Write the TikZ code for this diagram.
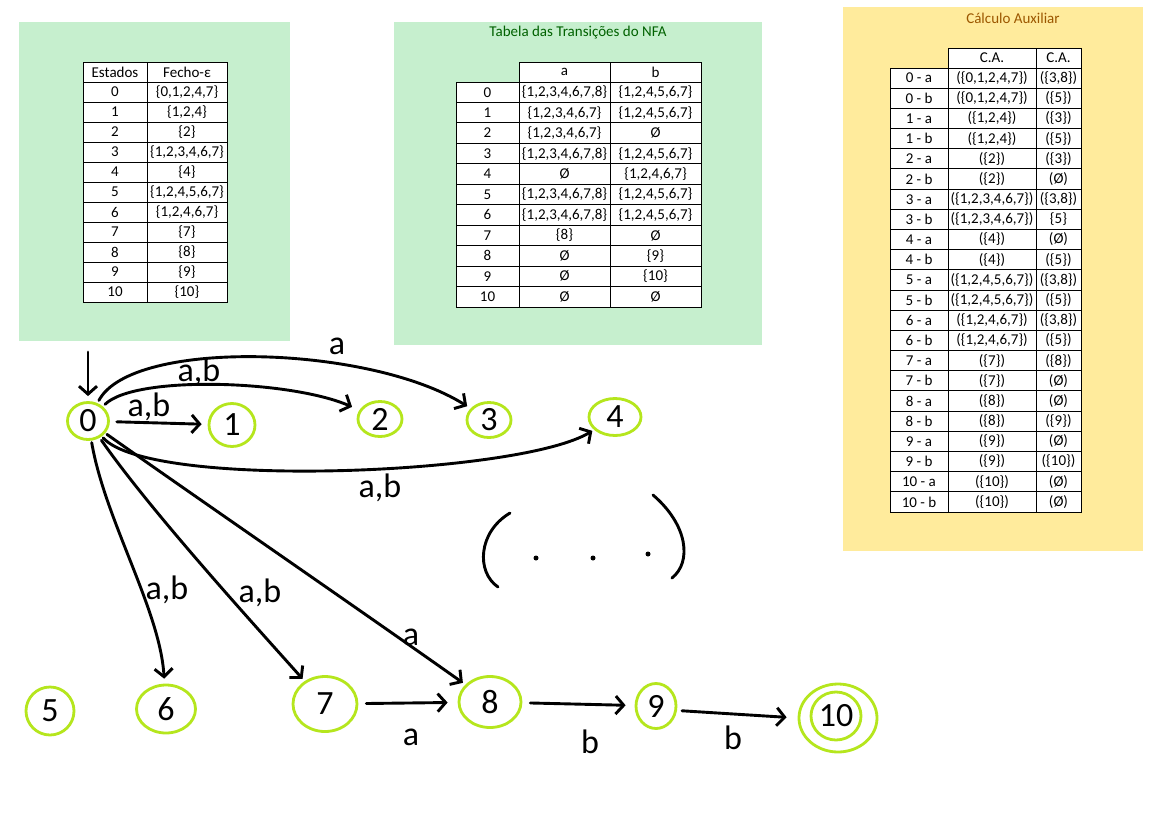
\documentclass[tikz,border=0pt]{standalone}
\usepackage{fontspec}
\setmainfont{Carlito}
\usetikzlibrary{arrows.meta,shapes.geometric}

\tikzset{
  cell/.style={text=drawColor, inner sep=0pt, outer sep=0pt, font=\fontsize{15}{17}\selectfont},
  boxtitle/.style={inner sep=0pt, outer sep=0pt, font=\fontsize{15}{17}\selectfont},
  gridline/.style={draw=drawColor, line width=1pt},
  state/.style={ellipse, draw=stateColor, line width=2.8pt, inner sep=0pt, text=drawColor, font=\fontsize{34}{34}\selectfont},
  hand/.style={text=drawColor, inner sep=0pt, outer sep=0pt, font=\fontsize{34}{34}\selectfont},
  edge/.style={draw=drawColor, line width=2.9pt, line cap=round, line join=round, -{Straight Barb[length=8pt,width=18pt]}},
}

\begin{document}
\begin{tikzpicture}[x=1pt,y=-1pt]
\definecolor{fillColor}{RGB}{255,255,255}
\path[use as bounding box,fill=fillColor] (0,0) rectangle (1152,820);
\begin{scope}
\definecolor{greenFill}{RGB}{198,239,206}
\definecolor{yellowFill}{RGB}{255,235,156}

\path[fill=greenFill] ( 19, 22) rectangle (290,341);

\path[fill=greenFill] (394, 22) rectangle (762,345);

\path[fill=yellowFill] (843,  7) rectangle (1143,551);

\node[boxtitle,text={rgb,255:red,0;green,97;blue,0}] (nfatitle) at (578, 33) {Tabela das Transições do NFA};

\node[boxtitle,text={rgb,255:red,156;green,87;blue,0}] (auxtitle) at (1013, 18) {Cálculo Auxiliar};
\end{scope}
\begin{scope}
\definecolor{drawColor}{RGB}{0,0,0}
\definecolor{cellFill}{RGB}{255,255,255}

\path[fill=cellFill,gridline] ( 83, 62) rectangle (227,302);
\path[gridline] (147, 62) -- (147,302);
\path[gridline] ( 83, 82) -- (227, 82);
\path[gridline] ( 83,102) -- (227,102);
\path[gridline] ( 83,122) -- (227,122);
\path[gridline] ( 83,142) -- (227,142);
\path[gridline] ( 83,162) -- (227,162);
\path[gridline] ( 83,182) -- (227,182);
\path[gridline] ( 83,202) -- (227,202);
\path[gridline] ( 83,222) -- (227,222);
\path[gridline] ( 83,242) -- (227,242);
\path[gridline] ( 83,262) -- (227,262);
\path[gridline] ( 83,282) -- (227,282);

\node[cell] (eh) at (115, 72) {Estados};
\node[cell] (fh) at (187, 72) {Fecho-ε};
\node[cell] (e0) at (115, 92) {0};
\node[cell] (f0) at (187, 92) {\{0,1,2,4,7\}};
\node[cell] (e1) at (115,112) {1};
\node[cell] (f1) at (187,112) {\{1,2,4\}};
\node[cell] (e2) at (115,132) {2};
\node[cell] (f2) at (187,132) {\{2\}};
\node[cell] (e3) at (115,152) {3};
\node[cell] (f3) at (187,152) {\{1,2,3,4,6,7\}};
\node[cell] (e4) at (115,172) {4};
\node[cell] (f4) at (187,172) {\{4\}};
\node[cell] (e5) at (115,192) {5};
\node[cell] (f5) at (187,192) {\{1,2,4,5,6,7\}};
\node[cell] (e6) at (115,212) {6};
\node[cell] (f6) at (187,212) {\{1,2,4,6,7\}};
\node[cell] (e7) at (115,232) {7};
\node[cell] (f7) at (187,232) {\{7\}};
\node[cell] (e8) at (115,252) {8};
\node[cell] (f8) at (187,252) {\{8\}};
\node[cell] (e9) at (115,272) {9};
\node[cell] (f9) at (187,272) {\{9\}};
\node[cell] (e10) at (115,292) {10};
\node[cell] (f10) at (187,292) {\{10\}};

\path[fill=cellFill,gridline] (519, 62) rectangle (701, 82);
\path[fill=cellFill,gridline] (456, 82) rectangle (701,307);
\path[gridline] (519, 62) -- (519,307);
\path[gridline] (610, 62) -- (610,307);
\path[gridline] (456,102.5) -- (701,102.5);
\path[gridline] (456,122.9) -- (701,122.9);
\path[gridline] (456,143.4) -- (701,143.4);
\path[gridline] (456,163.8) -- (701,163.8);
\path[gridline] (456,184.3) -- (701,184.3);
\path[gridline] (456,204.7) -- (701,204.7);
\path[gridline] (456,225.2) -- (701,225.2);
\path[gridline] (456,245.6) -- (701,245.6);
\path[gridline] (456,266.1) -- (701,266.1);
\path[gridline] (456,286.5) -- (701,286.5);

\node[cell] (ta) at (564.5, 72) {a};
\node[cell] (tb) at (655.5, 72) {b};
\node[cell] (n0) at (487.5, 92.2) {0};
\node[cell] (n0a) at (564.5, 92.2) {\{1,2,3,4,6,7,8\}};
\node[cell] (n0b) at (655.5, 92.2) {\{1,2,4,5,6,7\}};
\node[cell] (n1) at (487.5,112.7) {1};
\node[cell] (n1a) at (564.5,112.7) {\{1,2,3,4,6,7\}};
\node[cell] (n1b) at (655.5,112.7) {\{1,2,4,5,6,7\}};
\node[cell] (n2) at (487.5,133.1) {2};
\node[cell] (n2a) at (564.5,133.1) {\{1,2,3,4,6,7\}};
\node[cell] (n2b) at (655.5,133.1) {Ø};
\node[cell] (n3) at (487.5,153.6) {3};
\node[cell] (n3a) at (564.5,153.6) {\{1,2,3,4,6,7,8\}};
\node[cell] (n3b) at (655.5,153.6) {\{1,2,4,5,6,7\}};
\node[cell] (n4) at (487.5,174.0) {4};
\node[cell] (n4a) at (564.5,174.0) {Ø};
\node[cell] (n4b) at (655.5,174.0) {\{1,2,4,6,7\}};
\node[cell] (n5) at (487.5,194.5) {5};
\node[cell] (n5a) at (564.5,194.5) {\{1,2,3,4,6,7,8\}};
\node[cell] (n5b) at (655.5,194.5) {\{1,2,4,5,6,7\}};
\node[cell] (n6) at (487.5,214.9) {6};
\node[cell] (n6a) at (564.5,214.9) {\{1,2,3,4,6,7,8\}};
\node[cell] (n6b) at (655.5,214.9) {\{1,2,4,5,6,7\}};
\node[cell] (n7) at (487.5,235.4) {7};
\node[cell] (n7a) at (564.5,235.4) {\{8\}};
\node[cell] (n7b) at (655.5,235.4) {Ø};
\node[cell] (n8) at (487.5,255.8) {8};
\node[cell] (n8a) at (564.5,255.8) {Ø};
\node[cell] (n8b) at (655.5,255.8) {\{9\}};
\node[cell] (n9) at (487.5,276.3) {9};
\node[cell] (n9a) at (564.5,276.3) {Ø};
\node[cell] (n9b) at (655.5,276.3) {\{10\}};
\node[cell] (n10) at (487.5,296.7) {10};
\node[cell] (n10a) at (564.5,296.7) {Ø};
\node[cell] (n10b) at (655.5,296.7) {Ø};

\path[fill=cellFill,gridline] (948, 48) rectangle (1081, 68);
\path[fill=cellFill,gridline] (890, 68) rectangle (1081,512);
\path[gridline] (948, 48) -- (948,512);
\path[gridline] (1036, 48) -- (1036,512);
\path[gridline] (890, 88.2) -- (1081, 88.2);
\path[gridline] (890,108.4) -- (1081,108.4);
\path[gridline] (890,128.5) -- (1081,128.5);
\path[gridline] (890,148.7) -- (1081,148.7);
\path[gridline] (890,168.9) -- (1081,168.9);
\path[gridline] (890,189.1) -- (1081,189.1);
\path[gridline] (890,209.3) -- (1081,209.3);
\path[gridline] (890,229.5) -- (1081,229.5);
\path[gridline] (890,249.6) -- (1081,249.6);
\path[gridline] (890,269.8) -- (1081,269.8);
\path[gridline] (890,290.0) -- (1081,290.0);
\path[gridline] (890,310.2) -- (1081,310.2);
\path[gridline] (890,330.4) -- (1081,330.4);
\path[gridline] (890,350.5) -- (1081,350.5);
\path[gridline] (890,370.7) -- (1081,370.7);
\path[gridline] (890,390.9) -- (1081,390.9);
\path[gridline] (890,411.1) -- (1081,411.1);
\path[gridline] (890,431.3) -- (1081,431.3);
\path[gridline] (890,451.5) -- (1081,451.5);
\path[gridline] (890,471.6) -- (1081,471.6);
\path[gridline] (890,491.8) -- (1081,491.8);

\node[cell] (ca1) at (992, 58) {C.A.};
\node[cell] (ca2) at (1058.5, 58) {C.A.};
\node[cell] (q0a) at (919, 78.1) {0 - a};
\node[cell] (q0aL) at (992, 78.1) {(\{0,1,2,4,7\})};
\node[cell] (q0aR) at (1058.5, 78.1) {(\{3,8\})};
\node[cell] (q0b) at (919, 98.3) {0 - b};
\node[cell] (q0bL) at (992, 98.3) {(\{0,1,2,4,7\})};
\node[cell] (q0bR) at (1058.5, 98.3) {(\{5\})};
\node[cell] (q1a) at (919,118.5) {1 - a};
\node[cell] (q1aL) at (992,118.5) {(\{1,2,4\})};
\node[cell] (q1aR) at (1058.5,118.5) {(\{3\})};
\node[cell] (q1b) at (919,138.6) {1 - b};
\node[cell] (q1bL) at (992,138.6) {(\{1,2,4\})};
\node[cell] (q1bR) at (1058.5,138.6) {(\{5\})};
\node[cell] (q2a) at (919,158.8) {2 - a};
\node[cell] (q2aL) at (992,158.8) {(\{2\})};
\node[cell] (q2aR) at (1058.5,158.8) {(\{3\})};
\node[cell] (q2b) at (919,179.0) {2 - b};
\node[cell] (q2bL) at (992,179.0) {(\{2\})};
\node[cell] (q2bR) at (1058.5,179.0) {(Ø)};
\node[cell] (q3a) at (919,199.2) {3 - a};
\node[cell] (q3aL) at (992,199.2) {(\{1,2,3,4,6,7\})};
\node[cell] (q3aR) at (1058.5,199.2) {(\{3,8\})};
\node[cell] (q3b) at (919,219.4) {3 - b};
\node[cell] (q3bL) at (992,219.4) {(\{1,2,3,4,6,7\})};
\node[cell] (q3bR) at (1058.5,219.4) {\{5\}};
\node[cell] (q4a) at (919,239.5) {4 - a};
\node[cell] (q4aL) at (992,239.5) {(\{4\})};
\node[cell] (q4aR) at (1058.5,239.5) {(Ø)};
\node[cell] (q4b) at (919,259.7) {4 - b};
\node[cell] (q4bL) at (992,259.7) {(\{4\})};
\node[cell] (q4bR) at (1058.5,259.7) {(\{5\})};
\node[cell] (q5a) at (919,279.9) {5 - a};
\node[cell] (q5aL) at (992,279.9) {(\{1,2,4,5,6,7\})};
\node[cell] (q5aR) at (1058.5,279.9) {(\{3,8\})};
\node[cell] (q5b) at (919,300.1) {5 - b};
\node[cell] (q5bL) at (992,300.1) {(\{1,2,4,5,6,7\})};
\node[cell] (q5bR) at (1058.5,300.1) {(\{5\})};
\node[cell] (q6a) at (919,320.3) {6 - a};
\node[cell] (q6aL) at (992,320.3) {(\{1,2,4,6,7\})};
\node[cell] (q6aR) at (1058.5,320.3) {(\{3,8\})};
\node[cell] (q6b) at (919,340.4) {6 - b};
\node[cell] (q6bL) at (992,340.4) {(\{1,2,4,6,7\})};
\node[cell] (q6bR) at (1058.5,340.4) {(\{5\})};
\node[cell] (q7a) at (919,360.6) {7 - a};
\node[cell] (q7aL) at (992,360.6) {(\{7\})};
\node[cell] (q7aR) at (1058.5,360.6) {(\{8\})};
\node[cell] (q7b) at (919,380.8) {7 - b};
\node[cell] (q7bL) at (992,380.8) {(\{7\})};
\node[cell] (q7bR) at (1058.5,380.8) {(Ø)};
\node[cell] (q8a) at (919,401.0) {8 - a};
\node[cell] (q8aL) at (992,401.0) {(\{8\})};
\node[cell] (q8aR) at (1058.5,401.0) {(Ø)};
\node[cell] (q8b) at (919,421.2) {8 - b};
\node[cell] (q8bL) at (992,421.2) {(\{8\})};
\node[cell] (q8bR) at (1058.5,421.2) {(\{9\})};
\node[cell] (q9a) at (919,441.3) {9 - a};
\node[cell] (q9aL) at (992,441.3) {(\{9\})};
\node[cell] (q9aR) at (1058.5,441.3) {(Ø)};
\node[cell] (q9b) at (919,461.5) {9 - b};
\node[cell] (q9bL) at (992,461.5) {(\{9\})};
\node[cell] (q9bR) at (1058.5,461.5) {(\{10\})};
\node[cell] (q10a) at (919,481.7) {10 - a};
\node[cell] (q10aL) at (992,481.7) {(\{10\})};
\node[cell] (q10aR) at (1058.5,481.7) {(Ø)};
\node[cell] (q10b) at (919,501.9) {10 - b};
\node[cell] (q10bL) at (992,501.9) {(\{10\})};
\node[cell] (q10bR) at (1058.5,501.9) {(Ø)};
\end{scope}
\begin{scope}
\definecolor{drawColor}{RGB}{0,0,0}
\definecolor{stateColor}{RGB}{181,230,29}

\node[state,minimum width=41pt,minimum height=37pt] (s0) at ( 88,421) {0};
\node[state,minimum width=46pt,minimum height=43pt] (s1) at (232,425) {1};
\node[state,minimum width=44pt,minimum height=35pt] (s2) at (380,419) {2};
\node[state,minimum width=44pt,minimum height=35pt] (s3) at (489,420) {3};
\node[state,minimum width=52pt,minimum height=37pt] (s4) at (615,417) {4};
\node[state,minimum width=48pt,minimum height=48pt] (s5) at ( 50,711) {5};
\node[state,minimum width=59pt,minimum height=48pt] (s6) at (166,709) {6};
\node[state,minimum width=64pt,minimum height=55pt] (s7) at (325,704) {7};
\node[state,minimum width=62pt,minimum height=51pt] (s8) at (490,702) {8};
\node[state,minimum width=40pt,minimum height=45pt] (s9) at (656,706) {9};
\node[state,minimum width=78pt,minimum height=68pt] (s10) at (838,718) {};
\node[state,minimum width=50pt,minimum height=48pt] (s10in) at (836,716) {10};

\coordinate (init) at (88,352);

\draw[edge,shorten >=5pt] (init) -- (s0);

\draw[edge,shorten <=7pt,shorten >=6pt] (s0) -- (s1);

\draw[edge,shorten <=3pt,shorten >=8pt] (s0) .. controls (135,375) and (290,380) .. (s2);

\draw[edge,shorten <=3pt,shorten >=4pt] (s0) .. controls (132,338) and (370,345) .. (s3);

\draw[edge,shorten <=2pt,shorten >=2pt] (s0) .. controls (150,490) and (520,475) .. (s4);

\draw[edge,shorten <=2pt,shorten >=5pt] (s0) .. controls (105,520) and (160,610) .. (s6);

\draw[edge,shorten <=3pt,shorten >=3pt] (s0) .. controls (150,510) and (250,620) .. (s7);

\draw[edge,shorten <=2pt,shorten >=3pt] (s0) .. controls (200,500) and (360,610) .. (s8);

\draw[edge,shorten <=8pt,shorten >=10pt] (s7) -- (s8);

\draw[edge,shorten <=8pt,shorten >=9pt] (s8) -- (s9);

\draw[edge,shorten <=5pt,shorten >=11pt] (s9.-12) -- (s10.west);

\node[hand] (l01) at (149,407) {a,b};
\node[hand] (l02) at (199,372) {a,b};
\node[hand] (l03) at (337,346) {a};
\node[hand] (l04) at (380,488) {a,b};
\node[hand] (l06) at (167,590) {a,b};
\node[hand] (l07) at (260,593) {a,b};
\node[hand] (l08) at (411,637) {a};
\node[hand] (l78) at (411,737) {a};
\node[hand] (l89) at (590,742) {b};
\node[hand] (l910) at (733,738) {b};

\path[draw=drawColor,line width=2.9pt,line cap=round] (510,513) .. controls (478,532) and (476,572) .. (498,587);

\path[draw=drawColor,line width=2.9pt,line cap=round] (653,495) .. controls (688,525) and (692,562) .. (672,578);

\path[fill=drawColor] (536,558) circle (2.5);

\path[fill=drawColor] (593,558) circle (2.5);

\path[fill=drawColor] (648,554) circle (2.5);
\end{scope}
\end{tikzpicture}
\end{document}
